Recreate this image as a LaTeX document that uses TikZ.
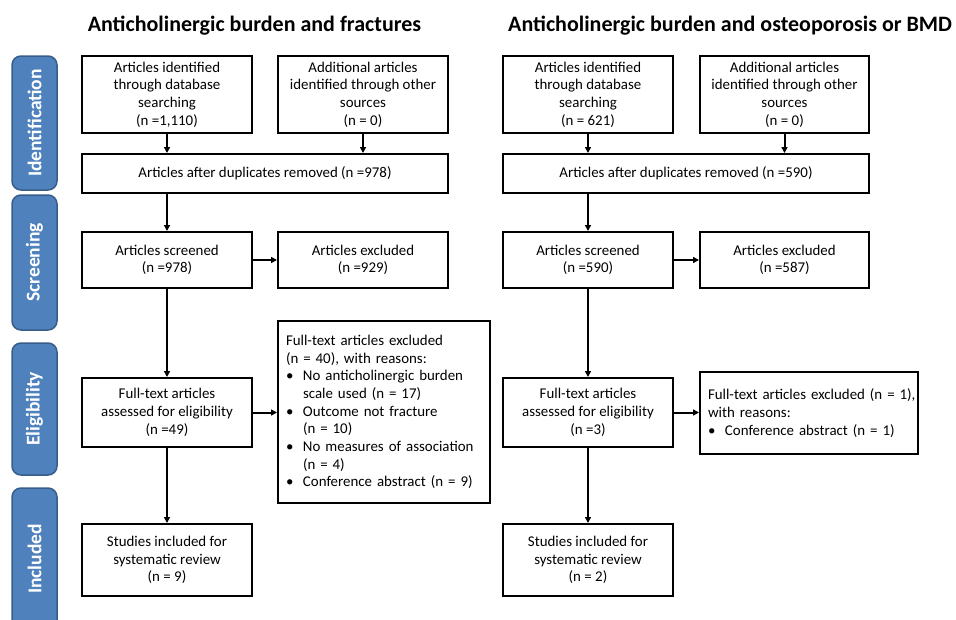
\documentclass[tikz,border=0pt]{standalone}
\usepackage{fontspec}
\setmainfont{Carlito}
\usetikzlibrary{arrows.meta}
\definecolor{sidefill}{HTML}{4F81BD}
\definecolor{sideline}{HTML}{385D8A}
\tikzset{
  box/.style={draw=black, line width=2pt, inner sep=0pt, align=center, fill=white,
    font=\fontsize{14.9}{17.7}\selectfont},
  lbox/.style={box, align=left, inner xsep=8pt},
  side/.style={draw=sideline, line width=1.5pt, fill=sidefill, rounded corners=9pt, rotate=90,
    minimum height=45pt, inner sep=0pt, text=white, font=\fontsize{19.5}{22}\selectfont\bfseries},
  ttl/.style={font=\fontsize{22}{24}\selectfont\bfseries, inner sep=0pt},
  arr/.style={line width=2pt, -{Triangle[length=6pt,width=6pt]}}
}
\begin{document}
\begin{tikzpicture}[x=1pt,y=-1pt]
\useasboundingbox (0,0) rectangle (956,619);
% side labels
\node[side, minimum width=134pt] (sid) at (34.5,123) {Identification};
\node[side, minimum width=135pt] (sscr) at (34.5,262.5) {Screening};
\node[side, minimum width=132pt] (selig) at (34.5,409) {Eligibility};
\node[side, minimum width=142pt] (sincl) at (34.5,559) {Included};
% titles
\node[ttl] (t1) at (254.5,26) {Anticholinergic burden and fractures};
\node[ttl, anchor=west] (t2) at (508,26) {Anticholinergic burden and osteoporosis or BMD};
% left panel
\node[box, minimum width=170pt, minimum height=77pt] (a1) at (167,94.5) {Articles identified\\through database\\searching\\(n =1,110)};
\node[box, minimum width=170pt, minimum height=77pt] (a2) at (363,94.5) {Additional articles\\identified through other\\sources\\(n = 0)};
\node[box, minimum width=366pt, minimum height=39pt] (dup) at (265,173.5) {Articles after duplicates removed (n =978)};
\node[box, minimum width=170pt, minimum height=56pt] (scr) at (167,260) {Articles screened\\(n =978)};
\node[box, minimum width=170pt, minimum height=56pt] (exc) at (363,260) {Articles excluded\\(n =929)};
\node[box, minimum width=170pt, minimum height=69pt] (ft) at (167,412.5) {Full-text articles\\assessed for eligibility\\(n =49)};
\node[lbox, text width=196pt, minimum height=182pt] (ftx) at (384,412) {Full-text articles excluded\\(n = 40), with reasons:\\
\makebox[17pt][l]{\textbullet}No anticholinergic burden\\\hspace*{17pt}scale used (n = 17)\\
\makebox[17pt][l]{\textbullet}Outcome not fracture\\\hspace*{17pt}(n = 10)\\
\makebox[17pt][l]{\textbullet}No measures of association\\\hspace*{17pt}(n = 4)\\
\makebox[17pt][l]{\textbullet}Conference abstract (n = 9)};
\node[box, minimum width=170pt, minimum height=72pt] (inc) at (167,560) {Studies included for\\systematic review\\(n = 9)};
% right panel
\node[box, minimum width=170pt, minimum height=77pt] (b1) at (588,94.5) {Articles identified\\through database\\searching\\(n = 621)};
\node[box, minimum width=169pt, minimum height=77pt] (b2) at (784.5,94.5) {Additional articles\\identified through other\\sources\\(n = 0)};
\node[box, minimum width=366pt, minimum height=39pt] (bdup) at (686,173.5) {Articles after duplicates removed (n =590)};
\node[box, minimum width=170pt, minimum height=56pt] (bscr) at (588,260) {Articles screened\\(n =590)};
\node[box, minimum width=169pt, minimum height=56pt] (bexc) at (784.5,260) {Articles excluded\\(n =587)};
\node[box, minimum width=170pt, minimum height=69pt] (bft) at (588,412.5) {Full-text articles\\assessed for eligibility\\(n =3)};
\node[lbox, text width=202pt, minimum height=82pt] (bftx) at (809,413) {\mbox{Full-text articles excluded (n = 1),}\\with reasons:\\
\makebox[17pt][l]{\textbullet}Conference abstract (n = 1)};
\node[box, minimum width=170pt, minimum height=72pt] (binc) at (588,560) {Studies included for\\systematic review\\(n = 2)};
% arrows left
\draw[arr] (a1.south) -- (a1.south |- dup.north);
\draw[arr] (a2.south) -- (a2.south |- dup.north);
\draw[arr] (scr.north |- dup.south) -- (scr.north);
\draw[arr] (scr.east) -- (exc.west);
\draw[arr] (scr.south) -- (ft.north);
\draw[arr] (ft.east) -- (ft.east -| ftx.west);
\draw[arr] (ft.south) -- (inc.north);
% arrows right
\draw[arr] (b1.south) -- (b1.south |- bdup.north);
\draw[arr] (b2.south) -- (b2.south |- bdup.north);
\draw[arr] (bscr.north |- bdup.south) -- (bscr.north);
\draw[arr] (bscr.east) -- (bexc.west);
\draw[arr] (bscr.south) -- (bft.north);
\draw[arr] (bft.east) -- (bft.east -| bftx.west);
\draw[arr] (bft.south) -- (binc.north);
\end{tikzpicture}
\end{document}
